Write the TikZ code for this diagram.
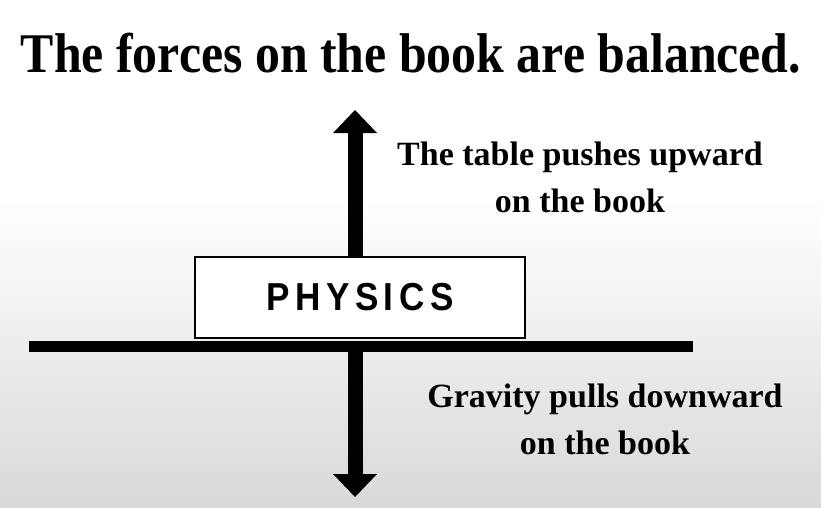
\documentclass[tikz,border=0pt]{standalone}
\usepackage{fontspec}
\setmainfont{Liberation Serif}
\newfontfamily\titlefont[FakeStretch=0.89]{Liberation Serif}
\newfontfamily\bookfont[FakeStretch=0.9,LetterSpace=14]{Liberation Sans}
\usetikzlibrary{arrows.meta}

\begin{document}
\begin{tikzpicture}[
    x=1pt, y=-1pt,
    force/.style={line width=15pt, -{Triangle[length=23pt,width=44pt,line width=0pt]}},
    book/.style={
        draw, line width=1.8pt, fill=white,
        minimum width=330pt, minimum height=81pt, inner sep=0pt,
        font=\bookfont\bfseries\fontsize{39}{39}\selectfont
    },
    caption/.style={align=center, font=\bfseries\fontsize{34}{47}\selectfont},
    tabletop/.style={line width=11pt},
]

    % background: white, fading to light grey at the bottom
    \fill[white] (0,0) rectangle (821,507);
    \shade[top color=white, bottom color=black!15] (0,200) rectangle (821,507);

    % title
    \node[anchor=base, font=\titlefont\bfseries\fontsize{56}{56}\selectfont] (title) at (411,72)
        {The forces on the book are balanced.};

    % table and book
    \coordinate (tableL) at (29,346);
    \coordinate (tableR) at (693,346);
    \draw[tabletop] (tableL) -- (tableR);
    \node[book] (book) at (360,297.5) {PHYSICS};

    % forces
    \coordinate (upTip) at (355,110);
    \coordinate (downTip) at (355,497);
    \draw[force] (book.north -| upTip) -- (upTip);
    \draw[force] (tableL -| downTip) -- (downTip);

    % labels
    \node[caption] (pushes) at (580,177) {The table pushes upward\\on the book};
    \node[caption] (pulls) at (605,419) {Gravity pulls downward\\on the book};

\end{tikzpicture}
\end{document}
